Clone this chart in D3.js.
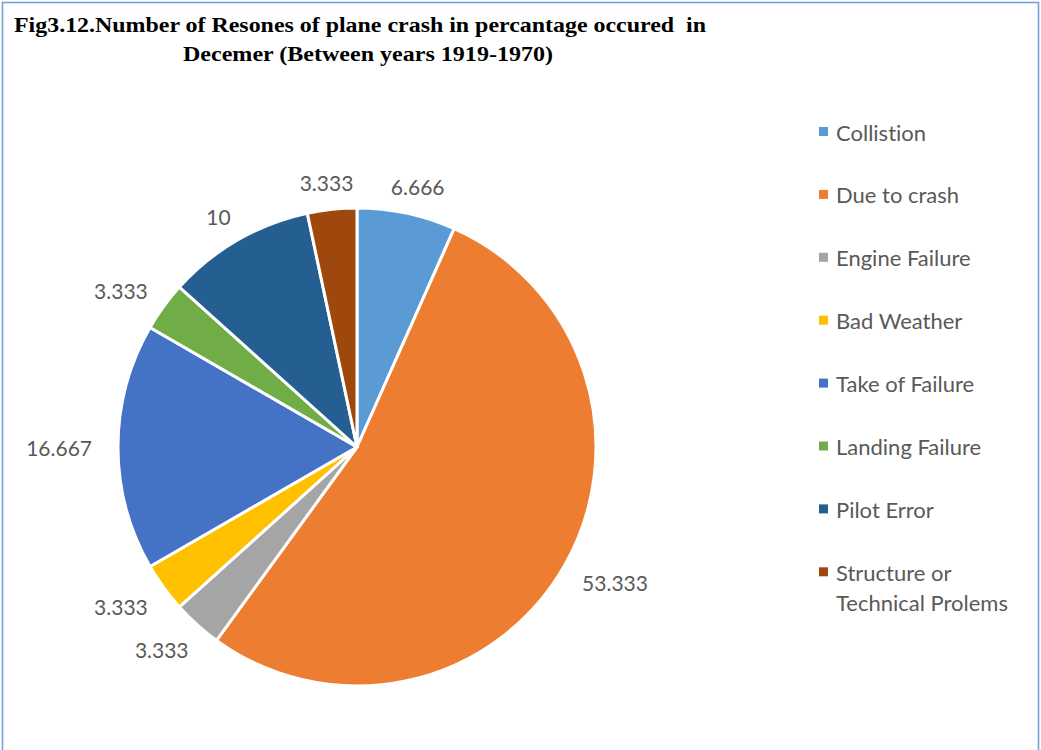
<!DOCTYPE html>
<html>
<head>
<meta charset="utf-8">
<script src="https://cdn.jsdelivr.net/npm/d3@7"></script>
<style>
  html, body { margin: 0; padding: 0; background: #fff; }
  svg { display: block; }
  text { font-variant-ligatures: none; white-space: pre; }
</style>
</head>
<body>
<svg id="chart" width="1041" height="750"></svg>
<script>
// Reasons for plane crashes in December, 1919-1970 (percent)
const categories = [
  "Collistion", "Due to crash", "Engine Failure", "Bad Weather",
  "Take of Failure", "Landing Failure", "Pilot Error", "Structure or Technical Prolems"
];
const values = [6.666, 53.333, 3.333, 3.333, 16.667, 3.333, 10, 3.333];
const valueLabels = ["6.666", "53.333", "3.333", "3.333", "16.667", "3.333", "10", "3.333"];
const colors = ["#5B9BD5", "#ED7D31", "#A5A5A5", "#FFC000", "#4472C4", "#70AD47", "#255E91", "#9E480E"];
const titleLines = [
  "Fig3.12.Number of Resones of plane crash in percantage occured  in",
  "Decemer (Between years 1919-1970)"
];

const svg = d3.select("#chart");
const W = 1041, H = 750;

// outer frame (bottom edge runs off the page)
svg.append("rect")
  .attr("x", 2.5).attr("y", 2.5)
  .attr("width", W - 5).attr("height", H + 20)
  .attr("fill", "#fff")
  .attr("stroke", "#6FA3DA").attr("stroke-width", 1.6);

// title
const titleFont = "'Liberation Serif', 'Times New Roman', serif";
svg.append("text")
  .attr("x", 14).attr("y", 32)
  .attr("textLength", 692).attr("lengthAdjust", "spacingAndGlyphs")
  .attr("font-family", titleFont).attr("font-weight", "bold")
  .attr("font-size", 21.5).attr("fill", "#000")
  .text(titleLines[0]);
svg.append("text")
  .attr("x", 183).attr("y", 61)
  .attr("textLength", 370).attr("lengthAdjust", "spacingAndGlyphs")
  .attr("font-family", titleFont).attr("font-weight", "bold")
  .attr("font-size", 21.5).attr("fill", "#000")
  .text(titleLines[1]);

// pie
const cx = 357, cy = 447, r = 239;
const pie = d3.pie().sort(null).value(d => d)(values);
const arc = d3.arc().innerRadius(0).outerRadius(r);
const color = d3.scaleOrdinal().domain(categories).range(colors);

const g = svg.append("g").attr("transform", `translate(${cx},${cy})`);
g.selectAll("path.slice")
  .data(pie)
  .join("path")
  .attr("class", "slice")
  .attr("d", arc)
  .attr("fill", (d, i) => color(categories[i]))
  .attr("stroke", "#fff")
  .attr("stroke-width", 3)
  .attr("stroke-linejoin", "round");

// value labels placed just outside the rim, box pushed outward along the mid angle
const labelFont = "Lato, 'Open Sans', sans-serif";
const labelGap = 23;
const labels = g.selectAll("text.val")
  .data(pie)
  .join("text")
  .attr("class", "val")
  .attr("font-family", labelFont)
  .attr("font-size", 21)
  .attr("fill", "#595959")
  .attr("text-anchor", "middle")
  .attr("dominant-baseline", "central")
  .text((d, i) => valueLabels[i]);

labels.each(function(d) {
  const a = (d.startAngle + d.endAngle) / 2;
  const bb = this.getBBox();
  const ax = Math.sin(a) * (r + labelGap);
  const ay = -Math.cos(a) * (r + labelGap);
  const x = ax + Math.sin(a) * (bb.width / 2 + 3);
  const push = Math.cos(a) > 0 ? 4 : 10;
  const y = ay - Math.cos(a) * push;
  d3.select(this).attr("x", x).attr("y", y);
});

// legend
const legendX = 819, legendY0 = 132, legendStep = 62.9;
const legend = svg.append("g");
const items = legend.selectAll("g.item")
  .data(categories)
  .join("g")
  .attr("class", "item")
  .attr("transform", (d, i) => `translate(${legendX},${legendY0 + i * legendStep})`);
items.append("rect")
  .attr("x", 0).attr("y", -5)
  .attr("width", 9).attr("height", 9)
  .attr("fill", d => color(d));
items.append("text")
  .attr("x", 17).attr("y", 0)
  .attr("font-family", labelFont)
  .attr("font-size", 22)
  .attr("fill", "#595959")
  .attr("dominant-baseline", "central")
  .each(function(d) {
    const t = d3.select(this);
    if (d === "Structure or Technical Prolems") {
      t.append("tspan").attr("x", 17).attr("dy", 0).text("Structure or");
      t.append("tspan").attr("x", 17).attr("dy", 30).text("Technical Prolems");
    } else {
      t.text(d);
    }
  });
</script>
</body>
</html>
